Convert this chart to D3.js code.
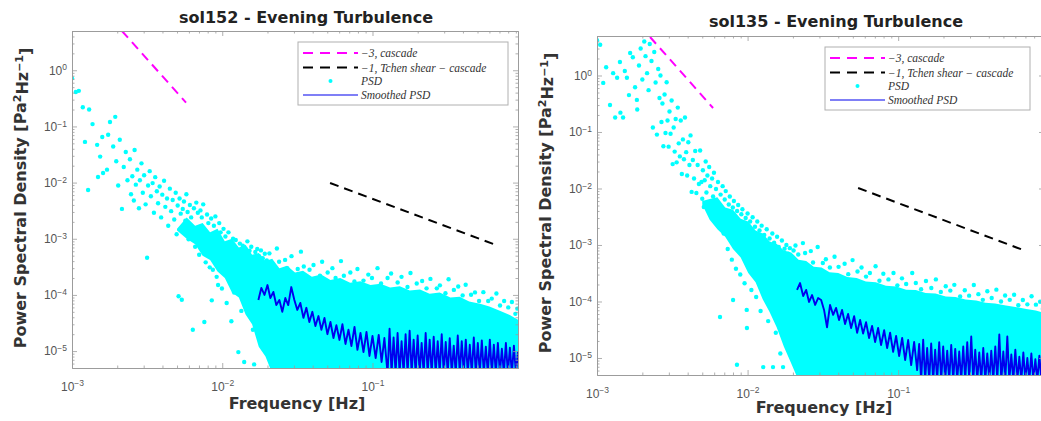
<!DOCTYPE html>
<html><head><meta charset="utf-8">
<script src="https://cdn.jsdelivr.net/npm/d3@7"></script>
<style>body{margin:0;background:#fff}svg{display:block}</style>
</head><body>
<svg id="chart" width="1041" height="421"></svg>
<script>
// ---------- tick labels / text ----------
const xTickExps = [-3, -2, -1];
const yTickExps = [0, -1, -2, -3, -4, -5];
const xDomain = [1e-3, 0.93];
const yDomain = [5e-6, 5];
const titles = ["sol152 - Evening Turbulence", "sol135 - Evening Turbulence"];
const xLabel = "Frequency [Hz]";
const legendLabels = ["\u22123, cascade", "\u22121, Tchen shear \u2212 cascade", "PSD", "Smoothed PSD"];

// ---------- sol152 ----------
const cascade152F = [0.00215, 0.00574];
const cascade152P = [5.0, 0.266];
const tchen152F = [0.0522, 0.686];
const tchen152P = [0.00985, 0.00075];
// dense part of the PSD cloud (upper / lower edge of the solid cyan region)
const band152F   = [0.0050,0.0058,0.0066,0.0074,0.0083,0.0093,0.0104,0.0116,0.0129,0.0143,0.0158,0.0175,0.0194,0.0215,0.0240,0.0270,0.0305,0.0345,0.0395,0.0455,0.0525,0.061,0.071,0.083,0.097,0.113,0.131,0.152,0.177,0.207,0.24,0.28,0.33,0.38,0.44,0.52,0.60,0.71,0.82,0.95];
const band152Top = [1.5e-3,2.4e-3,1.7e-3,1.9e-3,1.3e-3,1.5e-3,9.0e-4,1.0e-3,7.0e-4,7.8e-4,5.2e-4,5.6e-4,4.0e-4,4.4e-4,3.0e-4,3.3e-4,2.5e-4,2.7e-4,2.1e-4,2.3e-4,1.85e-4,2.0e-4,1.65e-4,1.75e-4,1.5e-4,1.58e-4,1.35e-4,1.42e-4,1.2e-4,1.25e-4,1.05e-4,1.1e-4,9.0e-5,9.3e-5,7.6e-5,7.0e-5,6.2e-5,5.2e-5,4.4e-5,3.5e-5];
const band152Low = [1.4e-3,1.0e-3,8.0e-4,5.0e-4,4.2e-4,2.6e-4,2.0e-4,1.1e-4,9.0e-5,4.5e-5,3.0e-5,1.2e-5,8.0e-6,4e-6,4e-6,4e-6,4e-6,4e-6,4e-6,4e-6,4e-6,4e-6,4e-6,4e-6,4e-6,4e-6,4e-6,4e-6,4e-6,4e-6,4e-6,4e-6,4e-6,4e-6,4e-6,4e-6,4e-6,4e-6,4e-6,4e-6];
const psd152 = [
[0.00100,0.72],[0.00106,0.41],[0.00111,0.43],[0.00118,0.22],[0.00122,0.053],[0.00128,0.0074],[0.00130,0.20],[0.00137,0.11],
[0.00147,0.047],[0.00149,0.0126],[0.00154,0.029],[0.00159,0.065],[0.00161,0.0148],[0.00171,0.017],[0.00174,0.071],[0.00179,0.12],
[0.00188,0.044],[0.00194,0.148],[0.00197,0.024],[0.00203,0.0089],[0.00208,0.058],[0.00215,0.0034],[0.00221,0.019],[0.00228,0.035],[0.00234,0.011],
[0.00243,0.026],[0.00247,0.0062],[0.00252,0.013],[0.00258,0.0048],[0.00261,0.038],[0.00266,0.0092],[0.00272,0.017],[0.00279,0.0035],
[0.00283,0.011],[0.00290,0.022],[0.00296,0.0066],[0.00302,0.0135],[0.00309,0.0041],[0.00316,0.00046],[0.00321,0.0089],[0.00329,0.016],
[0.00335,0.0057],[0.00344,0.0098],[0.00351,0.0029],[0.00358,0.0125],[0.00367,0.0070],[0.00374,0.0043],[0.00383,0.0085],[0.00392,0.0024],
[0.00399,0.0061],[0.00410,0.0108],[0.00418,0.0037],[0.00429,0.0052],[0.00437,0.0017],[0.00448,0.0078],[0.00457,0.0031],[0.00468,0.0049],
[0.00479,0.0022],[0.00490,0.0066],[0.00497,0.0012],
[0.00505,0.0039],[0.00512,0.000095],[0.00520,0.0052],[0.00529,0.0028],[0.00538,0.000082],[0.00546,0.0034],[0.00556,0.0046],[0.00568,0.0021],
[0.00577,0.0062],[0.00588,0.0030],[0.00597,0.00098],[0.00609,0.0040],[0.00621,0.0024],[0.00637,0.000024],[0.00648,0.0035],[0.00660,0.00072],
[0.00672,0.0044],[0.00688,0.0029],[0.00702,0.00052],[0.00716,0.0032],[0.00731,0.0024],[0.00747,0.0041],[0.00760,0.000033],[0.00776,0.00038],
[0.00792,0.0027],[0.00808,0.0019],[0.00826,0.00031],[0.00844,0.0023],[0.00852,0.000080],[0.00866,0.00028],[0.00880,0.0017],[0.00900,0.0025],
[0.00918,0.00021],[0.00938,0.00015],[0.00955,0.0019],[0.00975,0.0013],[0.00995,0.00013],[0.0102,0.0015],[0.0105,0.0011],[0.0107,0.000072],
[0.0110,0.0013],[0.0113,0.00085],[0.0115,0.000034],[0.0118,0.0010],[0.0120,0.00011],[0.0123,0.00095],[0.0126,0.00063],[0.0128,0.0000096],
[0.0131,0.00082],[0.0134,0.000052],[0.0137,0.00075],[0.0140,0.0000064],[0.0143,0.00066],[0.0147,0.00090],[0.0148,0.000080],[0.0152,0.00061],
[0.0156,0.00072],[0.0160,0.000024],[0.0163,0.0000058],[0.0166,0.00058],[0.0171,0.00066],[0.0176,0.00049],[0.0181,0.00062],[0.0186,0.00045],
[0.0192,0.00054],[0.0198,0.00041],
[0.0206,5.5e-4],[0.0214,3.7e-4],[0.0231,6.7e-4],[0.0239,3.9e-4],[0.0262,4.2e-4],[0.0271,3.0e-4],[0.0289,4.9e-4],[0.0318,2.9e-4],
[0.0334,5.9e-4],[0.0349,3.2e-4],[0.0381,2.8e-4],[0.0405,3.4e-4],[0.0447,2.2e-4],[0.0462,3.9e-4],[0.0503,2.5e-4],[0.0541,3.0e-4],
[0.0568,2.0e-4],[0.0617,4.0e-4],[0.0645,2.2e-4],[0.0712,2.5e-4],[0.0758,1.73e-4],[0.0794,2.9e-4],[0.0871,1.8e-4],[0.0938,2.3e-4],
[0.0992,2.0e-4],[0.108,3.0e-4],[0.114,1.6e-4],[0.126,2.0e-4],[0.133,2.4e-4],[0.147,1.66e-4],[0.156,2.1e-4],[0.171,1.38e-4],
[0.179,2.45e-4],[0.197,1.6e-4],[0.214,1.77e-4],[0.229,1.31e-4],[0.243,1.93e-4],[0.268,1.31e-4],[0.281,1.48e-4],[0.306,1.07e-4],
[0.321,1.9e-4],[0.348,1.23e-4],[0.372,1.41e-4],[0.398,9.8e-5],[0.417,1.52e-4],[0.453,1.01e-4],[0.481,1.11e-4],[0.512,7.8e-5],
[0.547,1.12e-4],[0.589,7.8e-5],[0.622,8.6e-5],[0.668,1.06e-4],[0.706,6.5e-5],[0.752,7.8e-5],[0.801,6.0e-5],[0.847,7.5e-5],
[0.893,4.6e-5],[0.921,5.7e-5]
];
const smooth152F = [0.0174,0.0182,0.0191,0.0200,0.0209,0.0219,0.0229,0.0240,0.0251,0.0263,0.0275,0.0288,0.0302,0.0316,0.0331,0.0347,0.0363,0.0380,0.0398,0.0417,0.0437,0.0457,0.0479,0.0501,0.0525,0.0550,0.0575,0.0603,0.0631,0.0661,0.0692,0.0724,0.0759,0.0794,0.0832,0.0871,0.0912,0.0955,0.100,0.105,0.110,0.115,0.120,
0.126,0.1299,0.1340,0.1382,0.1425,0.1469,0.1515,0.1562,0.1611,0.1661,0.1713,0.1767,0.1822,0.1879,0.1937,0.1998,0.2060,0.2124,0.2191,0.2259,0.2330,0.2402,0.2477,0.2555,0.2634,0.2717,0.2801,0.2889,0.2979,0.3072,0.3168,0.3267,0.3369,0.3474,0.3582,0.3694,0.3809,0.3928,0.4051,0.4177,0.4307,0.4442,0.4580,0.4723,0.4871,0.5023,0.5179,0.5341,0.5508,0.5680,0.5857,0.6040,0.6228,0.6423,0.6623,0.6830,0.7043,0.7263,0.7490,0.7723,0.7964,0.8213,0.8469,0.8734,0.9006,0.9287,0.9577];
const smooth152P = [8.1e-5,1.33e-4,1.0e-4,1.5e-4,8.8e-5,1.13e-4,6.6e-5,8.1e-5,5.0e-5,8.8e-5,6.6e-5,1.38e-4,8.1e-5,5.4e-5,7.2e-5,3.9e-5,5.9e-5,3.3e-5,5.0e-5,2.8e-5,4.2e-5,2.4e-5,3.9e-5,2.0e-5,3.3e-5,1.71e-5,2.9e-5,1.58e-5,3.0e-5,1.34e-5,2.4e-5,1.23e-5,2.7e-5,1.05e-5,2.1e-5,9.6e-6,2.2e-5,8.2e-6,1.86e-5,7.5e-6,1.94e-5,6.4e-6,1.71e-5,
4e-6,2.5e-5,4e-6,1.75e-5,4e-6,2.1e-5,4e-6,1.5e-5,4e-6,2.0e-5,4e-6,2.3e-5,4e-6,1.6e-5,4e-6,1.9e-5,4e-6,1.4e-5,4e-6,2.1e-5,4e-6,1.6e-5,4e-6,1.8e-5,4e-6,1.5e-5,4e-6,2.0e-5,4e-6,1.45e-5,4e-6,1.7e-5,4e-6,1.25e-5,4e-6,1.9e-5,4e-6,1.5e-5,4e-6,1.6e-5,4e-6,1.3e-5,4e-6,1.75e-5,4e-6,1.4e-5,4e-6,1.55e-5,4e-6,1.2e-5,4e-6,1.6e-5,4e-6,1.3e-5,4e-6,1.4e-5,4e-6,1.1e-5,4e-6,1.4e-5,4e-6,1.15e-5,4e-6,1.25e-5,4e-6,9.5e-6,4e-6];

// ---------- sol135 ----------
const cascade135F = [0.00225, 0.0059];
const cascade135P = [4.8, 0.266];
const tchen135F = [0.0542, 0.698];
const tchen135P = [0.0102, 0.00079];
const band135F   = [0.0050,0.0056,0.0063,0.0071,0.0080,0.0090,0.0101,0.0113,0.0126,0.0140,0.0156,0.0174,0.0195,0.0218,0.0245,0.0275,0.031,0.035,0.040,0.046,0.053,0.061,0.071,0.083,0.097,0.113,0.131,0.152,0.177,0.207,0.24,0.28,0.33,0.38,0.44,0.52,0.60,0.71,0.82,0.95];
const band135Top = [6.0e-3,6.5e-3,7.0e-3,4.6e-3,4.2e-3,2.9e-3,2.6e-3,1.8e-3,1.6e-3,1.15e-3,1.05e-3,8.0e-4,7.4e-4,5.5e-4,5.2e-4,4.1e-4,4.0e-4,3.3e-4,3.2e-4,2.7e-4,2.6e-4,2.25e-4,2.2e-4,1.9e-4,1.85e-4,1.62e-4,1.6e-4,1.42e-4,1.38e-4,1.22e-4,1.2e-4,1.08e-4,1.04e-4,9.5e-5,9.2e-5,8.5e-5,8.0e-5,7.4e-5,6.9e-5,6.2e-5];
const band135Low = [5.2e-3,2.8e-3,1.9e-3,1.4e-3,8.5e-4,6.0e-4,3.2e-4,2.2e-4,1.1e-4,6.5e-5,3.5e-5,1.6e-5,8.0e-6,4e-6,4e-6,4e-6,4e-6,4e-6,4e-6,4e-6,4e-6,4e-6,4e-6,4e-6,4e-6,4e-6,4e-6,4e-6,4e-6,4e-6,4e-6,4e-6,4e-6,4e-6,4e-6,4e-6,4e-6,4e-6,4e-6,4e-6];
const psd135 = [
[0.00100,4.2],[0.00105,3.5],[0.00110,0.74],[0.00115,1.4],[0.00122,0.30],[0.00128,1.1],[0.00132,0.18],[0.00136,0.91],[0.00142,1.73],
[0.00143,0.22],[0.00149,0.18],[0.00153,1.2],[0.00158,0.91],[0.00163,0.45],[0.00166,2.5],[0.00173,2.1],[0.00179,0.62],[0.00184,0.37],
[0.00185,0.25],[0.00190,1.5],[0.00195,3.0],[0.00200,0.85],[0.00206,4.0],[0.00210,2.2],[0.00215,1.1],[0.00220,0.55],[0.00224,3.6],
[0.00230,1.8],[0.00235,0.12],[0.00240,2.6],[0.00245,0.75],[0.00250,0.09],[0.00255,1.3],[0.00260,0.40],
[0.00264,1.0],[0.00268,0.15],[0.00272,0.32],[0.00276,0.056],[0.00281,0.46],[0.00285,0.096],[0.00290,0.76],[0.00294,0.16],[0.00299,0.055],
[0.00303,0.23],[0.00308,0.093],[0.00313,0.36],[0.00318,0.027],[0.00323,0.12],[0.00328,0.045],[0.00333,0.17],[0.00338,0.029],[0.00344,0.27],
[0.00349,0.063],[0.00355,0.037],[0.00360,0.16],[0.00366,0.018],[0.00372,0.074],[0.00378,0.033],[0.00384,0.18],[0.00391,0.044],[0.00397,0.017],
[0.00404,0.066],[0.00411,0.026],[0.00418,0.087],[0.00425,0.0087],[0.00433,0.032],[0.00441,0.015],[0.00449,0.046],[0.00457,0.0083],
[0.00466,0.026],[0.00475,0.012],[0.00484,0.047],[0.00494,0.013],[0.00500,0.0066],
[0.00505,0.021],[0.00512,0.0047],[0.00519,0.014],[0.00527,0.030],[0.00533,0.0085],[0.00541,0.017],[0.00549,0.0052],[0.00556,0.024],
[0.00565,0.011],[0.00573,0.0036],[0.00581,0.015],[0.00590,0.0072],[0.00598,0.019],[0.00607,0.0028],[0.00617,0.0098],[0.00626,0.0055],
[0.00636,0.013],[0.00646,0.0021],[0.00656,0.000053],[0.00662,0.0078],[0.00672,0.0042],[0.00683,0.011],[0.00694,0.0016],[0.00705,0.0064],
[0.00716,0.0090],[0.00727,0.0034],[0.00738,0.00085],[0.00750,0.0052],[0.00762,0.0072],[0.00774,0.0026],[0.00786,0.00055],[0.00798,0.0046],
[0.00801,0.000106],[0.00811,0.0060],[0.00824,0.0021],[0.00837,0.00038],[0.00850,0.0000076],[0.00852,0.0040],[0.00866,0.0051],[0.00880,0.0014],
[0.00894,0.00030],[0.00909,0.0035],[0.00924,0.0043],[0.00939,0.00095],[0.00955,0.00021],[0.00971,0.0030],[0.00987,0.000071],[0.00990,0.000034],
[0.0100,0.0036],[0.0102,0.00072],[0.0104,0.0026],[0.0106,0.00016],[0.0108,0.0031],[0.0110,0.00055],[0.0112,0.0021],[0.0114,0.00012],
[0.0116,0.0026],[0.0118,0.00042],[0.0120,0.0018],[0.0122,0.000068],[0.0124,0.0022],[0.0127,0.0000069],[0.0129,0.0015],[0.0131,0.00027],
[0.0134,0.0019],[0.0137,0.000045],[0.0140,0.0013],[0.0143,0.00017],[0.0146,0.0016],[0.01475,0.0000069],[0.0150,0.0011],[0.0154,0.000028],
[0.0157,0.0014],[0.0161,0.00092],[0.0165,0.000012],[0.0169,0.0012],[0.0172,0.0000069],[0.0176,0.00086],[0.0181,0.0010],[0.0186,0.00070],
[0.0191,0.00088],[0.0196,0.00062],[0.0202,0.00080],
[0.0208,9.8e-4],[0.0217,6.8e-4],[0.0233,1.08e-3],[0.0241,7.2e-4],[0.0263,7.8e-4],[0.0272,4.9e-4],[0.0292,9.2e-4],[0.0316,4.8e-4],
[0.0331,5.6e-4],[0.0352,4.0e-4],[0.0378,6.2e-4],[0.0402,4.1e-4],[0.0441,4.65e-4],[0.0466,3.05e-4],[0.0498,5.4e-4],[0.0537,3.4e-4],
[0.0571,4.0e-4],[0.0612,2.76e-4],[0.0649,3.2e-4],[0.0708,4.2e-4],[0.0751,2.33e-4],[0.0797,3.1e-4],[0.0862,2.46e-4],[0.0931,3.2e-4],
[0.0988,1.93e-4],[0.106,2.57e-4],[0.113,2.04e-4],[0.124,3.2e-4],[0.131,2.13e-4],[0.142,1.65e-4],[0.153,2.3e-4],[0.166,1.73e-4],
[0.178,2.46e-4],[0.192,1.47e-4],[0.207,1.86e-4],[0.222,1.56e-4],[0.236,1.97e-4],[0.258,1.23e-4],[0.277,1.58e-4],[0.296,1.27e-4],
[0.318,1.96e-4],[0.341,1.35e-4],[0.365,1.07e-4],[0.391,1.52e-4],[0.418,1.15e-4],[0.449,1.62e-4],[0.482,1.0e-4],[0.513,1.28e-4],
[0.551,1.07e-4],[0.589,1.32e-4],[0.628,8.6e-5],[0.673,1.06e-4],[0.721,8.9e-5],[0.769,1.24e-4],[0.822,8.8e-5],[0.876,9.9e-5],[0.915,7.4e-5]
];
const smooth135F = [0.0213,0.0223,0.0234,0.0245,0.0256,0.0268,0.0281,0.0294,0.0308,0.0322,0.0337,0.0353,0.0370,0.0387,0.0405,0.0424,0.0444,0.0465,0.0487,0.0510,0.0534,0.0559,0.0585,0.0612,0.0641,0.0671,0.0703,0.0736,0.0770,0.0807,0.0845,0.0884,0.0926,0.0969,0.1015,0.1063,0.1113,0.1165,0.1220,0.1277,
0.1337,0.1379,0.1421,0.1466,0.1511,0.1558,0.1607,0.1657,0.1708,0.1761,0.1816,0.1873,0.1931,0.1991,0.2053,0.2117,0.2183,0.2251,0.2321,0.2393,0.2467,0.2544,0.2623,0.2705,0.2789,0.2876,0.2965,0.3057,0.3152,0.3250,0.3352,0.3456,0.3563,0.3674,0.3789,0.3906,0.4028,0.4153,0.4282,0.4416,0.4553,0.4695,0.4841,0.4991,0.5147,0.5307,0.5472,0.5642,0.5818,0.5999,0.6185,0.6378,0.6576,0.6781,0.6992,0.7209,0.7434,0.7665,0.7903,0.8149,0.8403,0.8664,0.8934,0.9212];
const smooth135P = [1.60e-4,2.12e-4,1.25e-4,1.60e-4,9.8e-5,1.30e-4,8.7e-5,1.15e-4,1.06e-4,7.1e-5,3.5e-5,8.7e-5,5.8e-5,7.7e-5,4.7e-5,7.1e-5,4.0e-5,6.0e-5,3.4e-5,5.5e-5,2.8e-5,4.7e-5,2.7e-5,4.3e-5,2.26e-5,3.7e-5,1.92e-5,3.4e-5,1.70e-5,3.1e-5,1.50e-5,2.8e-5,1.28e-5,2.45e-5,1.08e-5,2.26e-5,9.2e-6,2.08e-5,7.5e-6,1.92e-5,
6.1e-6,1.77e-5,4e-6,2.1e-5,4e-6,1.5e-5,4e-6,1.8e-5,4e-6,1.4e-5,4e-6,1.9e-5,4e-6,1.6e-5,4e-6,1.35e-5,4e-6,1.7e-5,4e-6,1.45e-5,4e-6,1.3e-5,4e-6,1.6e-5,4e-6,1.9e-5,4e-6,2.4e-5,4e-6,1.4e-5,4e-6,1.25e-5,4e-6,1.5e-5,4e-6,1.2e-5,4e-6,1.35e-5,4e-6,1.6e-5,4e-6,2.6e-5,4e-6,1.3e-5,4e-6,2.4e-5,4e-6,1.15e-5,4e-6,1.4e-5,4e-6,1.05e-5,4e-6,1.25e-5,4e-6,1.0e-5,4e-6,1.2e-5,4e-6,9.5e-6,4e-6,1.1e-5,4e-6,9.0e-6];

// ---------- styling / layout ----------
const CYAN = "#00ffff", BLUE = "#0000ee", MAGENTA = "#ff00ff", BLACK = "#000000";
const AXIS = "#9c9c9c", TICKTXT = "#555555", LABTXT = "#333333";
const panels = [
  {id:"a", left:72, right:518, top:31, bottom:368, titleX:306, titleY:23, xlabX:297, xlabY:409, ylabX:26, ylabY:198,
   leg:{x:298, y:42, w:210, h:63}, title:titles[0],
   data:{cascF:cascade152F, cascP:cascade152P, tchF:tchen152F, tchP:tchen152P, bandF:band152F, bandTop:band152Top, bandLow:band152Low, psd:psd152, smF:smooth152F, smP:smooth152P}},
  {id:"b", left:597, right:1044, top:36, bottom:375, titleX:836, titleY:27, xlabX:824, xlabY:413, ylabX:551, ylabY:203,
   leg:{x:825, y:47, w:205, h:63}, title:titles[1],
   data:{cascF:cascade135F, cascP:cascade135P, tchF:tchen135F, tchP:tchen135P, bandF:band135F, bandTop:band135Top, bandLow:band135Low, psd:psd135, smF:smooth135F, smP:smooth135P}}
];

const svg = d3.select("#chart");
const defs = svg.append("defs");
const expStr = e => (e < 0 ? "\u2212" + (-e) : String(e));

function powLabel(sel) {
  sel.each(function(v) {
    const t = d3.select(this);
    const e = Math.round(Math.log10(v));
    t.text(null);
    t.append("tspan").text("10");
    t.append("tspan").attr("dy", "-0.5em").attr("font-size", "8.5px").text(expStr(e));
  });
}

function styleAxis(g) {
  g.attr("font-family", "'Liberation Sans', Arial, sans-serif").attr("font-size", 12);
  g.selectAll(".domain").attr("stroke", AXIS).attr("stroke-width", 1);
  g.selectAll(".tick line").attr("stroke", AXIS).attr("stroke-width", 0.8);
  g.selectAll(".tick text").attr("fill", TICKTXT);
}

panels.forEach(p => {
  const d = p.data;
  const x = d3.scaleLog().domain(xDomain).range([p.left, p.right]);
  const y = d3.scaleLog().domain(yDomain).range([p.bottom, p.top]);
  const g = svg.append("g");
  defs.append("clipPath").attr("id", "clip" + p.id).append("rect")
    .attr("x", p.left).attr("y", p.top).attr("width", p.right - p.left).attr("height", p.bottom - p.top);
  const plot = g.append("g").attr("clip-path", `url(#clip${p.id})`);
  const line = d3.line().x(v => x(v[0])).y(v => y(v[1]));

  // reference slopes
  plot.append("path").datum(d3.zip(d.cascF, d.cascP)).attr("d", line)
    .attr("fill", "none").attr("stroke", MAGENTA).attr("stroke-width", 2).attr("stroke-dasharray", "9,6");
  plot.append("path").datum(d3.zip(d.tchF, d.tchP)).attr("d", line)
    .attr("fill", "none").attr("stroke", BLACK).attr("stroke-width", 2).attr("stroke-dasharray", "9,6");

  // dense PSD region
  const area = d3.area().x(v => x(v[0])).y0(v => y(v[2])).y1(v => y(v[1]));
  plot.append("path").datum(d3.zip(d.bandF, d.bandTop, d.bandLow)).attr("d", area).attr("fill", CYAN);
  // PSD points
  plot.append("g").selectAll("circle").data(d.psd).join("circle")
    .attr("cx", v => x(v[0])).attr("cy", v => y(v[1])).attr("r", 2.2).attr("fill", CYAN);
  // smoothed PSD
  plot.append("path").datum(d3.zip(d.smF, d.smP)).attr("d", line)
    .attr("fill", "none").attr("stroke", BLUE).attr("stroke-width", 1.9).attr("stroke-linejoin", "round");

  // axes
  const xMajor = xTickExps.map(e => Math.pow(10, e));
  const yMajor = yTickExps.map(e => Math.pow(10, e));
  const xMinor = [], yMinor = [];
  for (let e = -3; e <= 0; e++) for (let m = 2; m <= 9; m++) { const v = m * Math.pow(10, e); if (v >= xDomain[0] && v <= xDomain[1]) xMinor.push(v); }
  for (let e = -6; e <= 0; e++) for (let m = 2; m <= 9; m++) { const v = m * Math.pow(10, e); if (v >= yDomain[0] && v <= yDomain[1]) yMinor.push(v); }

  const bx = g.append("g").attr("transform", `translate(0,${p.bottom})`)
    .call(d3.axisBottom(x).tickValues(xMajor).tickSizeInner(-5).tickSizeOuter(0).tickPadding(14));
  powLabel(bx.selectAll(".tick text"));
  styleAxis(bx);
  const bxm = g.append("g").attr("transform", `translate(0,${p.bottom})`)
    .call(d3.axisBottom(x).tickValues(xMinor).tickSizeInner(-2.5).tickSizeOuter(0).tickFormat(() => ""));
  styleAxis(bxm);
  const tx = g.append("g").attr("transform", `translate(0,${p.top})`)
    .call(d3.axisTop(x).tickValues(xMajor).tickSizeInner(-5).tickSizeOuter(0).tickFormat(() => ""));
  styleAxis(tx);
  const txm = g.append("g").attr("transform", `translate(0,${p.top})`)
    .call(d3.axisTop(x).tickValues(xMinor).tickSizeInner(-2.5).tickSizeOuter(0).tickFormat(() => ""));
  styleAxis(txm);

  const ly = g.append("g").attr("transform", `translate(${p.left},0)`)
    .call(d3.axisLeft(y).tickValues(yMajor).tickSizeInner(-5).tickSizeOuter(0).tickPadding(5));
  powLabel(ly.selectAll(".tick text"));
  styleAxis(ly);
  const lym = g.append("g").attr("transform", `translate(${p.left},0)`)
    .call(d3.axisLeft(y).tickValues(yMinor).tickSizeInner(-2.5).tickSizeOuter(0).tickFormat(() => ""));
  styleAxis(lym);
  const ry = g.append("g").attr("transform", `translate(${p.right},0)`)
    .call(d3.axisRight(y).tickValues(yMajor).tickSizeInner(-5).tickSizeOuter(0).tickFormat(() => ""));
  styleAxis(ry);
  const rym = g.append("g").attr("transform", `translate(${p.right},0)`)
    .call(d3.axisRight(y).tickValues(yMinor).tickSizeInner(-2.5).tickSizeOuter(0).tickFormat(() => ""));
  styleAxis(rym);

  // title & labels
  g.append("text").attr("x", p.titleX).attr("y", p.titleY).attr("text-anchor", "middle")
    .attr("font-family", "'DejaVu Sans', sans-serif").attr("font-weight", "bold").attr("font-size", 16)
    .attr("fill", "#222").text(p.title);
  g.append("text").attr("x", p.xlabX).attr("y", p.xlabY).attr("text-anchor", "middle")
    .attr("font-family", "'DejaVu Sans', sans-serif").attr("font-weight", "bold").attr("font-size", 16)
    .attr("fill", LABTXT).text(xLabel);
  const yl = g.append("text").attr("transform", `translate(${p.ylabX},${p.ylabY}) rotate(-90)`)
    .attr("text-anchor", "middle").attr("font-family", "'DejaVu Sans', sans-serif")
    .attr("font-weight", "bold").attr("font-size", 16).attr("fill", LABTXT);
  yl.append("tspan").text("Power Spectral Density [Pa");
  yl.append("tspan").attr("dy", "-0.45em").attr("font-size", 11).text("2");
  yl.append("tspan").attr("dy", "0.45em").text("Hz");
  yl.append("tspan").attr("dy", "-0.45em").attr("font-size", 11).text("\u22121");
  yl.append("tspan").attr("dy", "0.45em").text("]");

  // legend
  const L = p.leg;
  const lg = g.append("g");
  lg.append("rect").attr("x", L.x).attr("y", L.y).attr("width", L.w).attr("height", L.h)
    .attr("fill", "#fff").attr("stroke", "#b0b0b0").attr("stroke-width", 1);
  const rowsY = [11, 25.5, 39, 53];
  const sx0 = L.x + 5, sx1 = L.x + 60, tx0 = L.x + 63;
  lg.append("line").attr("x1", sx0).attr("x2", sx1).attr("y1", L.y + rowsY[0]).attr("y2", L.y + rowsY[0])
    .attr("stroke", MAGENTA).attr("stroke-width", 2).attr("stroke-dasharray", "10,7");
  lg.append("line").attr("x1", sx0).attr("x2", sx1).attr("y1", L.y + rowsY[1]).attr("y2", L.y + rowsY[1])
    .attr("stroke", BLACK).attr("stroke-width", 2).attr("stroke-dasharray", "10,7");
  lg.append("circle").attr("cx", (sx0 + sx1) / 2).attr("cy", L.y + rowsY[2]).attr("r", 2).attr("fill", CYAN);
  lg.append("line").attr("x1", sx0).attr("x2", sx1).attr("y1", L.y + rowsY[3]).attr("y2", L.y + rowsY[3])
    .attr("stroke", BLUE).attr("stroke-width", 1.2);
  legendLabels.forEach((s, i) => {
    lg.append("text").attr("x", tx0).attr("y", L.y + rowsY[i] + 4)
      .attr("font-family", "'Liberation Serif', 'DejaVu Serif', serif").attr("font-style", "italic")
      .attr("font-size", 11.5).attr("fill", "#333").text(s);
  });
});
</script>
</body></html>
